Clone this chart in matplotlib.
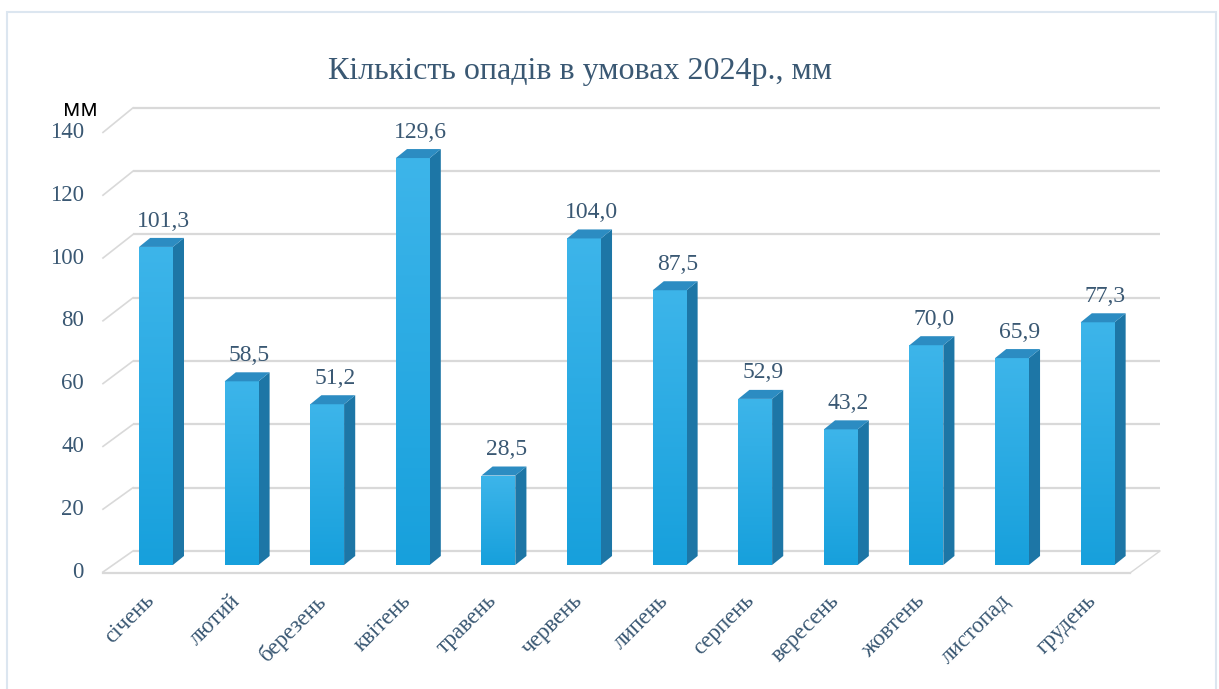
import matplotlib
matplotlib.use("Agg")
import matplotlib.pyplot as plt
import numpy as np
from matplotlib.patches import Polygon, Rectangle
from matplotlib.colors import LinearSegmentedColormap

months = ["січень", "лютий", "березень", "квітень", "травень", "червень",
          "липень", "серпень", "вересень", "жовтень", "листопад", "грудень"]
precip = [101.3, 58.5, 51.2, 129.6, 28.5, 104.0, 87.5, 52.9, 43.2, 70.0, 65.9, 77.3]
yticks = [0, 20, 40, 60, 80, 100, 120, 140]
title = "Кількість опадів в умовах 2024р., мм"
unit = "мм"

W, H = 1219, 689
fig = plt.figure(figsize=(W / 100, H / 100), dpi=100)
ax = fig.add_axes([0, 0, 1, 1])
ax.set_xlim(-1.822, 12.418)
ax.set_ylim(-39.49, 179.94)
ax.axis("off")

txt_color = "#3A5873"
serif = ["Liberation Serif", "DejaVu Serif"]

# 3D geometry (style constants)
bw = 0.395          # bar front width
ddx, ddy = 0.13, 2.87   # bar depth offset
back_x0, back_x1 = -0.269, 11.729
front_x0, front_x1 = -0.619, 11.379
back_off, back_scale = 4.46, 1.008
front_off = -2.23
grid_col = "#D9D9D9"

# back wall gridlines and side wall diagonals
for t in yticks:
    yb = t * back_scale + back_off
    yf = t + front_off
    ax.plot([back_x0, back_x1], [yb, yb], color=grid_col, lw=1.6, zorder=1,
            solid_capstyle="butt")
    ax.plot([front_x0, back_x0], [yf, yb], color=grid_col, lw=1.2, zorder=1)
    ax.text(-0.841, yf, str(t), ha="right", va="center", fontsize=16.5,
            family=serif, color=txt_color)

# floor front & right edges
ax.plot([front_x0, front_x1], [front_off - 0.3, front_off - 0.3], color=grid_col, lw=1.6, zorder=1)
ax.plot([front_x1, back_x1], [front_off - 0.3, back_off], color=grid_col, lw=1.0, zorder=1)

grad = np.linspace(0, 1, 256).reshape(-1, 1)
cmap = LinearSegmentedColormap.from_list("bar", ["#17A0DC", "#3DB5EA"])

for i, v in enumerate(precip):
    x0, x1 = i - bw / 2, i + bw / 2
    bars = ax.bar(i, v, width=bw, color="#27A9E1", edgecolor="none", zorder=3)
    rect = bars[0]
    im = ax.imshow(grad, extent=[x0, x1, 0, v], origin="lower", cmap=cmap,
                   aspect="auto", zorder=3.1, interpolation="bilinear")
    im.set_clip_path(rect)
    side = Polygon([(x1, 0), (x1 + ddx, ddy), (x1 + ddx, v + ddy), (x1, v)],
                   closed=True, facecolor="#1D76A6", edgecolor="none", zorder=3)
    top = Polygon([(x0, v), (x0 + ddx, v + ddy), (x1 + ddx, v + ddy), (x1, v)],
                  closed=True, facecolor="#2C8CC2", edgecolor="none", zorder=3.2)
    ax.add_patch(side)
    ax.add_patch(top)
    lbl = f"{v:.1f}".replace(".", ",")
    ax.text(i + 0.09, v + 6.5, lbl, ha="center", va="baseline", fontsize=17,
            family=serif, color=txt_color, zorder=5)
    ax.text(i - 0.14, -8.0, months[i], rotation=45, rotation_mode="anchor",
            ha="right", va="top", fontsize=16.5, family=serif, color=txt_color)

# title and unit
fig.text(580 / W, 1 - 71 / H, title, ha="center", va="center", fontsize=23,
         family=serif, color=txt_color)
fig.text(80 / W, 1 - 110 / H, unit, ha="center", va="center", fontsize=17,
         family=["Open Sans", "DejaVu Sans"], color="black")

# outer border
fig.patches.append(Rectangle((7 / W, -0.05), (1216 - 7) / W, 1 - 12 / H + 0.05,
                             transform=fig.transFigure, fill=False,
                             edgecolor="#DCE6F0", lw=1.5))

fig.savefig("out.png", dpi=100)
